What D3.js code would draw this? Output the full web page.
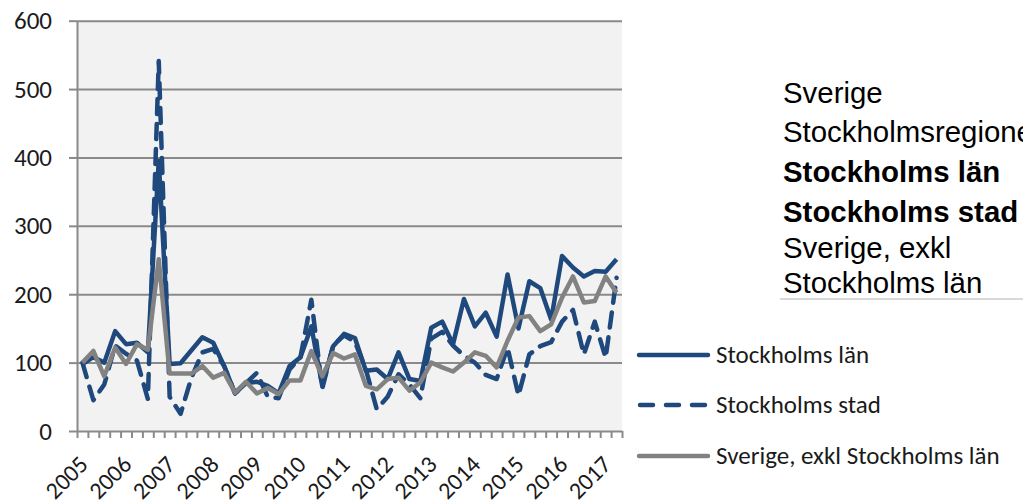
<!DOCTYPE html>
<html><head><meta charset="utf-8">
<script src="https://cdn.jsdelivr.net/npm/d3@7"></script>
<style>body{margin:0;background:#fff;} svg{display:block}</style>
</head><body><svg id="c" width="1023" height="504"></svg>
<script>
const years = ["2005","2006","2007","2008","2009","2010","2011","2012","2013","2014","2015","2016","2017"];
const yTicks = [0,100,200,300,400,500,600];
const stockholmsLan = [98,108,100,146,127,129,115,395,98,99,118,137,129,95,55,70,72,66,55,95,108,153,66,124,142,136,88,90,76,115,76,73,151,160,127,193,153,173,138,229,150,219,209,163,256,239,226,234,233,251];
const stockholmsStad = [100,45,68,125,113,103,47,541,50,25,78,115,120,95,55,70,85,50,48,90,108,192,62,125,140,130,90,32,50,83,68,48,135,145,125,110,100,82,76,122,52,112,124,130,160,177,112,160,107,224];
const sverigeExkl = [100,117,80,122,98,127,119,251,84,84,84,95,78,85,56,72,55,63,54,74,74,117,80,114,106,112,66,61,76,78,59,71,100,93,87,100,115,110,93,132,166,168,146,156,195,226,188,190,226,202];
const legendLabels = ["Stockholms län","Stockholms stad","Sverige, exkl Stockholms län"];
const sideLines = ["Sverige","Stockholmsregionen","Stockholms län","Stockholms stad","Sverige, exkl","Stockholms län"];
const sideBold = [false,false,true,true,false,false];

const svg = d3.select("#c");
const L = 77, R = 622, T = 20.7, B = 431;
const n = stockholmsLan.length;
const x = d3.scaleBand().domain(d3.range(n)).range([L, R]);
const xEdge = d3.scaleLinear().domain([0, n]).range([L, R]);
const cx = i => x(i) + x.bandwidth() / 2;
const y = d3.scaleLinear().domain([0, 600]).range([B, T]);
const gridCol = "#8a8a8a";
const blue = "#1f497d", grey = "#828282";
const calibri = "Carlito, Calibri, Lato, sans-serif";

svg.append("rect").attr("x", L).attr("y", T).attr("width", R - L).attr("height", B - T).attr("fill", "#f2f2f2");

// gridlines
const grid = svg.append("g").attr("transform", `translate(${L},0)`)
  .call(d3.axisLeft(y).tickValues(yTicks.slice(1)).tickSize(-(R - L)).tickFormat(""));
grid.select(".domain").remove();
grid.selectAll("line").attr("stroke", gridCol).attr("stroke-width", 2);

// y axis
const ya = svg.append("g").attr("transform", `translate(${L},0)`)
  .call(d3.axisLeft(y).tickValues(yTicks).tickSize(8).tickPadding(17).tickSizeOuter(0));
ya.attr("font-size", null).attr("font-family", null);
ya.select(".domain").attr("stroke", gridCol).attr("stroke-width", 2);
ya.selectAll("line").attr("stroke", gridCol).attr("stroke-width", 2);
ya.selectAll("text").style("font-family", calibri).style("font-size", "25px").attr("fill", "#1a1a1a");

// x axis
const xa = svg.append("g").attr("transform", `translate(0,${B})`)
  .call(d3.axisBottom(xEdge).tickValues(d3.range(n + 1)).tickSize(7).tickFormat("").tickSizeOuter(0));
xa.select(".domain").attr("stroke", gridCol).attr("stroke-width", 2);
xa.selectAll("line").attr("stroke", gridCol).attr("stroke-width", 2);

svg.append("g").selectAll("text").data(years).join("text")
  .attr("text-anchor", "end")
  .attr("transform", (d, k) => `translate(${cx(k * 4) + 7},466) rotate(-45)`)
  .style("font-family", calibri).style("font-size", "24px").attr("fill", "#1a1a1a")
  .text(d => d);

const line = d3.line().x((d, i) => cx(i)).y(d => y(d));
svg.append("path").datum(stockholmsLan).attr("d", line).attr("fill", "none")
  .attr("stroke", blue).attr("stroke-width", 4.5).attr("stroke-linejoin", "round");
svg.append("path").datum(stockholmsStad).attr("d", line).attr("fill", "none")
  .attr("stroke", blue).attr("stroke-width", 4.5).attr("stroke-linejoin", "round")
  .attr("stroke-linecap", "round").attr("stroke-dasharray", "15,10");
svg.append("path").datum(sverigeExkl).attr("d", line).attr("fill", "none")
  .attr("stroke", grey).attr("stroke-width", 4.5).attr("stroke-linejoin", "round");

// legend
const legY = [355, 405, 456];
const leg = svg.append("g");
legendLabels.forEach((t, k) => {
  const l = leg.append("line").attr("x1", 639).attr("x2", 708).attr("y1", legY[k]).attr("y2", legY[k])
    .attr("stroke", k === 2 ? grey : blue).attr("stroke-width", 4.5).attr("stroke-linecap", "round");
  if (k === 1) l.attr("stroke-dasharray", "13,13").attr("x1", 640);
  leg.append("text").attr("x", 716).attr("y", legY[k] + 8).style("font-family", calibri)
    .style("font-size", "25px").attr("fill", "#1a1a1a").text(t);
});

// side text
const sideY = [103, 142, 182, 222, 258, 293];
svg.append("g").selectAll("text").data(sideLines).join("text")
  .attr("x", 783).attr("y", (d, k) => sideY[k])
  .style("font-family", "'Liberation Sans', Arial, sans-serif").style("font-size", "29.4px")
  .style("font-weight", (d, k) => sideBold[k] ? "bold" : "normal").attr("fill", "#000")
  .text(d => d);
svg.append("line").attr("x1", 780).attr("x2", 1023).attr("y1", 299).attr("y2", 299)
  .attr("stroke", "#d9d9d9").attr("stroke-width", 2);
</script></body></html>
